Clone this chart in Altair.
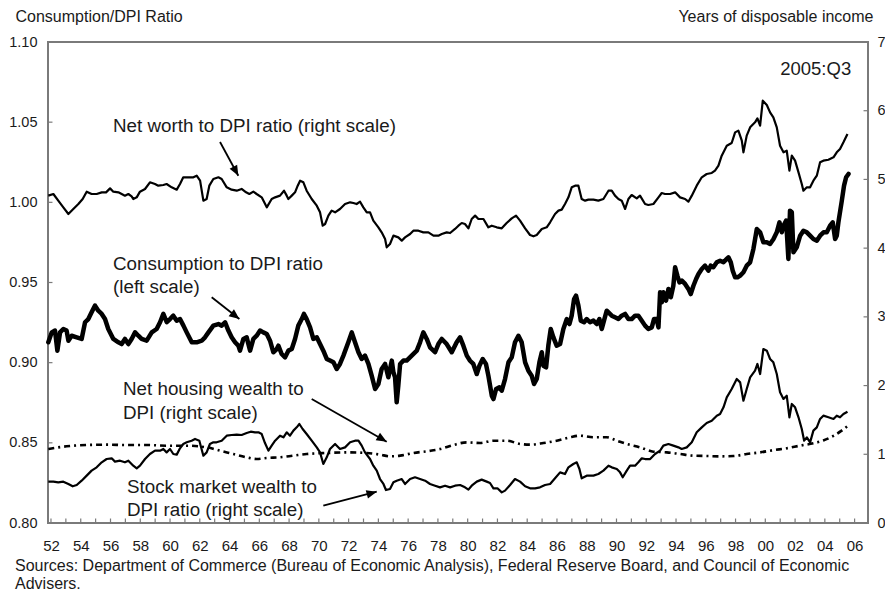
import altair as alt
import pandas as pd

# ---------------- data ----------------
cons_year = [
    1951.82, 1952.05, 1952.27, 1952.43, 1952.61, 1952.83, 1953.05, 1953.17, 1953.39, 1953.73,
    1954.06, 1954.29, 1954.51, 1954.73, 1954.96, 1955.18, 1955.41, 1955.63, 1955.85, 1956.19,
    1956.53, 1956.75, 1956.97, 1957.20, 1957.42, 1957.65, 1957.87, 1958.09, 1958.43, 1958.77,
    1959.10, 1959.33, 1959.55, 1959.78, 1960.00, 1960.22, 1960.45, 1960.67, 1960.90, 1961.12,
    1961.46, 1961.79, 1962.13, 1962.35, 1962.58, 1962.91, 1963.25, 1963.47, 1963.70, 1963.92,
    1964.14, 1964.37, 1964.59, 1964.70, 1964.93, 1965.15, 1965.38, 1965.60, 1965.82, 1966.05,
    1966.27, 1966.50, 1966.72, 1966.94, 1967.17, 1967.28, 1967.50, 1967.73, 1967.95, 1968.18,
    1968.40, 1968.62, 1968.85, 1969.00, 1969.18, 1969.41, 1969.63, 1969.86, 1970.08, 1970.30,
    1970.53, 1970.75, 1970.98, 1971.20, 1971.42, 1971.65, 1971.98, 1972.21, 1972.43, 1972.66,
    1972.88, 1973.10, 1973.33, 1973.55, 1973.78, 1974.00, 1974.22, 1974.45, 1974.67, 1974.90,
    1975.01, 1975.12, 1975.23, 1975.34, 1975.46, 1975.68, 1975.90, 1976.24, 1976.58, 1976.80,
    1977.02, 1977.25, 1977.47, 1977.81, 1978.03, 1978.26, 1978.59, 1978.93, 1979.26,
    1979.49, 1979.71, 1979.94, 1980.16, 1980.38, 1980.61, 1980.79, 1981.01, 1981.23, 1981.39,
    1981.62, 1981.73, 1981.91, 1982.13, 1982.29, 1982.51, 1982.74, 1982.96, 1983.18, 1983.41,
    1983.63, 1983.86, 1984.08, 1984.30, 1984.46, 1984.64, 1984.82, 1984.98, 1985.09, 1985.27,
    1985.42, 1985.58, 1985.76, 1985.98, 1986.21, 1986.43, 1986.66, 1986.84, 1986.99, 1987.15,
    1987.28, 1987.44, 1987.60, 1987.82, 1988.00, 1988.22, 1988.45, 1988.67, 1988.85, 1989.01,
    1989.16, 1989.34, 1989.68, 1989.90, 1990.13, 1990.35, 1990.58, 1990.80, 1991.02, 1991.25,
    1991.47, 1991.70, 1991.92, 1992.14, 1992.37, 1992.52, 1992.70, 1992.82, 1992.93,
    1993.04, 1993.15, 1993.33, 1993.49, 1993.65, 1993.82, 1993.94, 1994.09, 1994.23, 1994.39,
    1994.61, 1994.83, 1994.99, 1995.17, 1995.35, 1995.51, 1995.73, 1995.95, 1996.18, 1996.33,
    1996.51, 1996.74, 1996.96, 1997.19, 1997.41, 1997.52, 1997.68, 1997.81, 1997.97, 1998.13,
    1998.31, 1998.53, 1998.75, 1998.98, 1999.20, 1999.43, 1999.65, 1999.87, 2000.10, 2000.32,
    2000.55, 2000.77, 2000.95, 2001.11, 2001.22, 2001.40, 2001.55, 2001.66, 2001.78, 2001.89,
    2002.11, 2002.34, 2002.56, 2002.79, 2003.01, 2003.23, 2003.46, 2003.68, 2003.91, 2004.13,
    2004.35, 2004.53, 2004.69, 2004.80, 2004.91, 2005.14, 2005.29, 2005.43, 2005.59,
]
cons_val = [
    0.9127, 0.9189, 0.9200, 0.9075, 0.9189, 0.9210, 0.9200, 0.9137, 0.9168, 0.9158,
    0.9148, 0.9252, 0.9272, 0.9314, 0.9356, 0.9324, 0.9304, 0.9272, 0.9210, 0.9148,
    0.9127, 0.9116, 0.9148, 0.9116, 0.9148, 0.9189, 0.9168, 0.9148, 0.9137, 0.9189,
    0.9210, 0.9252, 0.9304, 0.9252, 0.9272, 0.9293, 0.9262, 0.9272, 0.9231, 0.9189,
    0.9127, 0.9127, 0.9137, 0.9158, 0.9189, 0.9231, 0.9241, 0.9231, 0.9252, 0.9200,
    0.9158, 0.9127, 0.9106, 0.9075, 0.9148, 0.9158, 0.9075, 0.9148, 0.9168, 0.9200,
    0.9189, 0.9179, 0.9137, 0.9065, 0.9085, 0.9106, 0.9054, 0.9033, 0.9075, 0.9085,
    0.9148, 0.9231, 0.9272, 0.9304, 0.9272, 0.9220, 0.9148, 0.9158, 0.9116, 0.9075,
    0.9023, 0.9013, 0.9002, 0.8961, 0.8992, 0.9044, 0.9127, 0.9189, 0.9127, 0.9065,
    0.9023, 0.9044, 0.8992, 0.8919, 0.8836, 0.8867, 0.8961, 0.8992, 0.8909, 0.9013,
    0.8940, 0.8909, 0.8753, 0.8857, 0.8992, 0.9013, 0.9013, 0.9044, 0.9075, 0.9127,
    0.9189, 0.9148, 0.9096, 0.9065, 0.9116, 0.9148, 0.9116, 0.9065, 0.9127,
    0.9158, 0.9106, 0.9044, 0.9012, 0.8992, 0.8929, 0.8981, 0.9023, 0.8992, 0.8919,
    0.8794, 0.8773, 0.8836, 0.8846, 0.8825, 0.8898, 0.9002, 0.9033, 0.9127, 0.9168,
    0.9127, 0.9002, 0.8950, 0.8919, 0.8867, 0.8898, 0.9002, 0.9065, 0.8981, 0.8971,
    0.9106, 0.9210, 0.9158, 0.9106, 0.9116, 0.9210, 0.9272, 0.9241, 0.9293, 0.9397,
    0.9418, 0.9356, 0.9262, 0.9252, 0.9272, 0.9252, 0.9262, 0.9241, 0.9272, 0.9210,
    0.9262, 0.9324, 0.9293, 0.9283, 0.9272, 0.9293, 0.9304, 0.9272, 0.9272, 0.9293,
    0.9293, 0.9262, 0.9231, 0.9210, 0.9220, 0.9272, 0.9272, 0.9220, 0.9439,
    0.9376, 0.9439, 0.9387, 0.9460, 0.9408, 0.9480, 0.9595, 0.9543, 0.9501, 0.9512,
    0.9491, 0.9460, 0.9428, 0.9480, 0.9522, 0.9553, 0.9584, 0.9605, 0.9574, 0.9605,
    0.9595, 0.9626, 0.9636, 0.9626, 0.9647, 0.9657, 0.9626, 0.9574, 0.9532, 0.9532,
    0.9543, 0.9564, 0.9605, 0.9626, 0.9709, 0.9834, 0.9813, 0.9751, 0.9751, 0.9740,
    0.9771, 0.9813, 0.9875, 0.9813, 0.9854, 0.9886, 0.9647, 0.9948, 0.9938, 0.9688,
    0.9719, 0.9792, 0.9823, 0.9813, 0.9792, 0.9771, 0.9761, 0.9792, 0.9813, 0.9813,
    0.9854, 0.9875, 0.9771, 0.9792, 0.9875, 1.0010, 1.0104, 1.0156, 1.0177,
]

nw_year = [
    1951.82, 1952.16, 1952.49, 1952.83, 1953.17, 1953.50, 1953.84, 1954.13, 1954.40, 1954.73,
    1955.07, 1955.41, 1955.70, 1955.97, 1956.19, 1956.53, 1956.75, 1956.97, 1957.20, 1957.42,
    1957.53, 1957.76, 1957.98, 1958.32, 1958.65, 1958.99, 1959.21, 1959.55, 1959.77, 1960.11,
    1960.45, 1960.67, 1960.89, 1961.23, 1961.57, 1961.79, 1962.02, 1962.24, 1962.46, 1962.64,
    1962.91, 1963.25, 1963.47, 1963.81, 1964.14, 1964.48, 1964.81, 1965.11, 1965.33, 1965.60,
    1965.82, 1966.16, 1966.50, 1966.83, 1967.06, 1967.39, 1967.66, 1967.84, 1967.95, 1968.18,
    1968.40, 1968.58, 1968.74, 1968.96, 1969.18, 1969.52, 1969.86, 1970.08, 1970.26, 1970.42,
    1970.64, 1970.86, 1971.09, 1971.42, 1971.76, 1972.10, 1972.32, 1972.54, 1972.77, 1972.99,
    1973.22, 1973.44, 1973.66, 1974.00, 1974.22, 1974.45, 1974.56, 1974.78, 1975.01, 1975.34,
    1975.57, 1975.79, 1976.13, 1976.35, 1976.69, 1977.02, 1977.36, 1977.70, 1978.03, 1978.26,
    1978.59, 1978.82,
    1979.15, 1979.38, 1979.60, 1979.82, 1980.05, 1980.27, 1980.50, 1980.72, 1981.06, 1981.39,
    1981.62, 1981.95, 1982.29, 1982.62, 1982.96, 1983.25, 1983.52, 1983.86, 1984.19, 1984.42,
    1984.64, 1984.98, 1985.31, 1985.54, 1985.87, 1986.10, 1986.32, 1986.54, 1986.77, 1986.99,
    1987.22, 1987.44, 1987.66, 1987.89, 1988.11, 1988.45, 1988.78, 1989.12, 1989.46, 1989.68,
    1989.90, 1990.13, 1990.35, 1990.58, 1990.80, 1991.02, 1991.36, 1991.58, 1991.92, 1992.14,
    1992.48, 1992.82, 1993.04, 1993.26, 1993.60, 1993.94, 1994.27, 1994.61, 1994.83, 1995.06,
    1995.39, 1995.73, 1996.06, 1996.40, 1996.62, 1996.85, 1997.07, 1997.41, 1997.74, 1997.97,
    1998.19, 1998.42, 1998.53, 1998.75, 1998.98, 1999.31, 1999.47, 1999.65, 1999.83, 2000.10,
    2000.32, 2000.54, 2000.77, 2000.99, 2001.22, 2001.44, 2001.62, 2001.78, 2002.00, 2002.23,
    2002.45, 2002.56, 2002.79, 2003.01, 2003.23, 2003.46, 2003.68, 2003.90, 2004.24, 2004.58,
    2004.80, 2005.02, 2005.25, 2005.52,
]
nw_val = [
    4.764, 4.788, 4.691, 4.594, 4.497, 4.570, 4.642, 4.715, 4.822, 4.788,
    4.788, 4.812, 4.812, 4.870, 4.822, 4.812, 4.788, 4.764, 4.788, 4.754,
    4.715, 4.739, 4.822, 4.861, 4.958, 4.933, 4.909, 4.919, 4.933, 4.885,
    4.851, 4.933, 5.031, 5.031, 5.031, 5.055, 4.982, 4.691, 4.715, 4.909,
    5.006, 5.031, 5.006, 4.885, 4.851, 4.836, 4.861, 4.812, 4.788, 4.822,
    4.788, 4.739, 4.594, 4.715, 4.739, 4.764, 4.836, 4.764, 4.715, 4.764,
    4.812, 4.909, 4.982, 4.958, 4.836, 4.715, 4.618, 4.521, 4.327, 4.351,
    4.473, 4.546, 4.521, 4.570, 4.642, 4.667, 4.657, 4.642, 4.676, 4.594,
    4.521, 4.521, 4.400, 4.303, 4.230, 4.133, 4.012, 4.060, 4.182, 4.157,
    4.109, 4.157, 4.206, 4.254, 4.254, 4.230, 4.230, 4.182, 4.182, 4.206,
    4.230, 4.220,
    4.279, 4.327, 4.366, 4.351, 4.288, 4.424, 4.473, 4.424, 4.424, 4.303,
    4.327, 4.303, 4.288, 4.366, 4.434, 4.473, 4.400, 4.288, 4.191, 4.172,
    4.191, 4.279, 4.303, 4.376, 4.497, 4.546, 4.560, 4.642, 4.739, 4.885,
    4.909, 4.909, 4.715, 4.691, 4.706, 4.706, 4.691, 4.715, 4.836, 4.836,
    4.764, 4.715, 4.691, 4.570, 4.715, 4.773, 4.725, 4.764, 4.642, 4.628,
    4.642, 4.739, 4.802, 4.788, 4.788, 4.812, 4.739, 4.715, 4.676, 4.764,
    4.909, 5.031, 5.079, 5.094, 5.128, 5.200, 5.346, 5.491, 5.530, 5.685,
    5.710, 5.564, 5.394, 5.637, 5.758, 5.831, 5.889, 5.782, 6.146, 6.083,
    5.976, 5.904, 5.758, 5.491, 5.394, 5.418, 5.127, 5.346, 5.273, 5.103,
    4.933, 4.836, 4.885, 4.885, 4.982, 5.055, 5.249, 5.273, 5.287, 5.321,
    5.394, 5.443, 5.540, 5.661,
]

stock_year = [
    1951.82, 1952.16, 1952.49, 1952.83, 1953.17, 1953.46, 1953.73, 1954.06, 1954.40, 1954.73,
    1955.07, 1955.41, 1955.74, 1956.08, 1956.30, 1956.64, 1956.97, 1957.20, 1957.53, 1957.76,
    1957.98, 1958.32, 1958.65, 1958.99, 1959.33, 1959.55, 1959.77, 1960.00, 1960.22, 1960.45,
    1960.67, 1960.89, 1961.12, 1961.45, 1961.68, 1961.97, 1962.24, 1962.46, 1962.68, 1962.91,
    1963.13, 1963.47, 1963.81, 1964.14, 1964.48, 1964.81, 1965.15, 1965.42, 1965.71, 1965.94,
    1966.16, 1966.38, 1966.61, 1966.83, 1967.06, 1967.39, 1967.62, 1967.84, 1968.06, 1968.29,
    1968.51, 1968.69, 1968.91, 1969.18, 1969.52, 1969.86, 1970.08, 1970.30, 1970.53, 1970.75,
    1971.09, 1971.42, 1971.76, 1972.10, 1972.43, 1972.66, 1972.88, 1973.10, 1973.44, 1973.66,
    1973.89, 1974.11, 1974.34, 1974.51, 1974.78, 1975.01, 1975.23, 1975.57, 1975.79, 1976.13,
    1976.46, 1976.80, 1977.14, 1977.47, 1977.81, 1978.14, 1978.48, 1978.82,
    1979.15, 1979.49, 1979.82, 1980.05, 1980.27, 1980.61, 1980.94, 1981.28, 1981.50, 1981.73,
    1982.00, 1982.29, 1982.51, 1982.85, 1983.18, 1983.52, 1983.86, 1984.19, 1984.53, 1984.86,
    1985.20, 1985.54, 1985.87, 1986.21, 1986.54, 1986.77, 1987.10, 1987.33, 1987.51, 1987.66,
    1988.00, 1988.45, 1988.78, 1989.12, 1989.46, 1989.68, 1990.02, 1990.24, 1990.42, 1990.69,
    1990.91, 1991.25, 1991.47, 1991.70, 1991.92, 1992.26, 1992.59, 1992.93, 1993.15, 1993.49,
    1993.82, 1994.16, 1994.38, 1994.72, 1995.06, 1995.39, 1995.73, 1996.06, 1996.40, 1996.74,
    1996.96, 1997.19, 1997.41, 1997.74, 1998.08, 1998.31, 1998.53, 1998.75, 1998.98, 1999.31,
    1999.47, 1999.65, 1999.87, 2000.10, 2000.32, 2000.54, 2000.77, 2000.99, 2001.22, 2001.44,
    2001.62, 2001.78, 2002.00, 2002.23, 2002.45, 2002.61, 2002.79, 2003.01, 2003.23, 2003.46,
    2003.68, 2003.90, 2004.24, 2004.58, 2004.80, 2005.02, 2005.25, 2005.52,
]
stock_val = [
    0.602, 0.602, 0.592, 0.602, 0.568, 0.534, 0.553, 0.616, 0.689, 0.762,
    0.810, 0.883, 0.931, 0.941, 0.893, 0.907, 0.883, 0.907, 0.834, 0.796,
    0.834, 0.931, 1.004, 1.053, 1.053, 1.077, 1.028, 1.077, 1.004, 0.995,
    1.087, 1.150, 1.174, 1.198, 1.223, 1.198, 0.980, 1.028, 1.150, 1.174,
    1.174, 1.198, 1.271, 1.281, 1.286, 1.281, 1.310, 1.329, 1.320, 1.320,
    1.295, 1.164, 1.053, 1.126, 1.198, 1.271, 1.247, 1.320, 1.271, 1.344,
    1.392, 1.441, 1.368, 1.295, 1.198, 1.101, 1.028, 0.859, 0.956, 1.077,
    1.150, 1.077, 1.101, 1.174, 1.198, 1.198, 1.126, 1.028, 0.931, 0.834,
    0.762, 0.640, 0.568, 0.480, 0.495, 0.592, 0.616, 0.640, 0.568, 0.640,
    0.665, 0.640, 0.616, 0.568, 0.543, 0.519, 0.543, 0.519,
    0.543, 0.553, 0.519, 0.485, 0.543, 0.602, 0.631, 0.602, 0.582, 0.505,
    0.505, 0.446, 0.471, 0.553, 0.640, 0.602, 0.534, 0.505, 0.505, 0.519,
    0.553, 0.568, 0.650, 0.737, 0.713, 0.810, 0.859, 0.883, 0.786, 0.650,
    0.689, 0.689, 0.713, 0.762, 0.834, 0.810, 0.786, 0.737, 0.665, 0.762,
    0.834, 0.834, 0.883, 0.941, 0.931, 0.931, 1.004, 1.053, 1.126, 1.150,
    1.126, 1.101, 1.077, 1.101, 1.174, 1.320, 1.392, 1.455, 1.489, 1.562,
    1.586, 1.683, 1.829, 1.950, 2.096, 2.047, 1.780, 1.950, 2.120, 2.217,
    2.314, 2.168, 2.532, 2.508, 2.387, 2.338, 2.168, 1.902, 1.805, 1.853,
    1.538, 1.732, 1.683, 1.538, 1.368, 1.198, 1.247, 1.174, 1.344, 1.392,
    1.514, 1.562, 1.538, 1.514, 1.562, 1.538, 1.586, 1.620,
]

house_year = [
    1951.82, 1953.05, 1954.40, 1955.74, 1957.09, 1958.43, 1959.77, 1961.12, 1962.46, 1963.36,
    1964.26, 1965.15, 1965.82, 1966.50, 1967.39, 1968.29, 1969.18, 1970.53, 1971.87, 1973.22,
    1974.11, 1974.78, 1975.46, 1976.35, 1977.47, 1978.14, 1979.04, 1979.94, 1980.83, 1981.73,
    1982.62, 1983.52, 1984.19, 1985.09, 1985.98, 1986.88, 1987.55, 1988.45, 1989.34, 1990.02,
    1990.69, 1991.58, 1992.48, 1993.38, 1994.27, 1995.17, 1996.06, 1996.96, 1997.86, 1998.75,
    1999.65, 2000.54, 2001.44, 2002.34, 2003.23, 2003.90, 2004.60, 2005.10, 2005.52,
]
house_val = [
    1.077, 1.116, 1.135, 1.140, 1.135, 1.135, 1.125, 1.125, 1.101, 1.053,
    1.004, 0.956, 0.931, 0.946, 0.956, 0.980, 1.004, 1.019, 1.028, 1.019,
    0.995, 0.970, 0.980, 1.019, 1.050, 1.077, 1.135, 1.174, 1.164, 1.198,
    1.198, 1.150, 1.140, 1.164, 1.198, 1.247, 1.271, 1.247, 1.247, 1.198,
    1.150, 1.101, 1.038, 1.028, 1.004, 0.980, 0.975, 0.970, 0.975, 1.004,
    1.028, 1.060, 1.087, 1.126, 1.160, 1.200, 1.270, 1.340, 1.410,
]

# axis ticks / labels
x_tick_years = list(range(1952, 2007))
x_label_years = list(range(1952, 2007, 2))
left_label_vals = [0.80, 0.85, 0.90, 0.95, 1.00, 1.05, 1.10]
left_tick_vals = [0.85, 0.90, 0.95, 1.00, 1.05]
right_label_vals = [0, 1, 2, 3, 4, 5, 6, 7]
right_tick_vals = [1, 2, 3, 4, 5, 6]

# annotations (positions in data units: year, left-scale value)
note_text = [
    "Net worth to DPI  ratio (right scale)",
    "Consumption to DPI ratio",
    "(left scale)",
    "Net housing wealth to",
    "DPI (right scale)",
    "Stock market wealth to",
    "DPI ratio (right scale)",
]
note_year = [1956.17, 1956.17, 1956.17, 1956.84, 1956.84, 1957.11, 1957.11]
note_val = [1.0476, 0.9615, 0.9472, 0.8836, 0.8686, 0.8225, 0.8081]

stamp_text = ["2005:Q3"]
stamp_year = [2005.77]
stamp_val = [1.0832]

arrow_x1 = [1963.36, 1962.80, 1969.52, 1970.30]
arrow_y1 = [1.0376, 0.9408, 0.8773, 0.8108]
arrow_x2 = [1964.59, 1964.66, 1974.56, 1973.89]
arrow_y2 = [1.0166, 0.9272, 0.8507, 0.8195]
arrow_ang = [151, 128, 120, 75]

sources = [
    "Sources: Department of Commerce (Bureau of Economic Analysis), Federal Reserve Board, and Council of Economic",
    "Advisers.",
]

assert len(cons_year) == len(cons_val)
assert len(nw_year) == len(nw_val)
assert len(stock_year) == len(stock_val)
assert len(house_year) == len(house_val)

# ---------------- chart ----------------
FONT = "Liberation Sans"
INK = "#1a1a1a"
FRAME = "#7a7a7a"
X0, X1 = 1951.8, 2006.9


def xscale():
    return alt.Scale(domain=[X0, X1], nice=False, zero=False)


def lscale():
    return alt.Scale(domain=[0.80, 1.10], nice=False, zero=False)


def rscale():
    return alt.Scale(domain=[0, 7], nice=False, zero=False)


def x_axis():
    return alt.Axis(
        values=x_label_years,
        labelExpr="substring(toString(datum.value), 2, 4)",
        ticks=False, domain=False, grid=False, labelPadding=15,
        labelFlush=False, labelOverlap=False,
        labelFont=FONT, labelFontSize=15, labelColor=INK, title=None,
    )


cons_df = pd.DataFrame({"year": cons_year, "val": cons_val})
nw_df = pd.DataFrame({"year": nw_year, "val": nw_val})
stock_df = pd.DataFrame({"year": stock_year, "val": stock_val})
house_df = pd.DataFrame({"year": house_year, "val": house_val})
notes_df = pd.DataFrame({"year": note_year, "val": note_val, "text": note_text})
stamp_df = pd.DataFrame({"year": stamp_year, "val": stamp_val, "text": stamp_text})
arrow_df = pd.DataFrame({"xa": arrow_x1, "ya": arrow_y1, "xe": arrow_x2, "ye": arrow_y2, "ang": arrow_ang})
xt_df = pd.DataFrame({"year": x_tick_years, "y0": [0.80] * len(x_tick_years), "y1": [0.8028] * len(x_tick_years)})
lt_df = pd.DataFrame({"val": left_tick_vals, "x0": [X0] * len(left_tick_vals), "x1": [X0 + 0.3] * len(left_tick_vals)})
rt_df = pd.DataFrame({"val": right_tick_vals, "x0": [X1 - 0.3] * len(right_tick_vals), "x1": [X1] * len(right_tick_vals)})


def xq(field="year"):
    # every layer carries the same x axis definition so that they merge into one
    return alt.X(f"{field}:Q", scale=xscale(), axis=x_axis())


def yl(field="val"):
    return alt.Y(f"{field}:Q", scale=lscale(), axis=None)


def yr(field="val"):
    return alt.Y(f"{field}:Q", scale=rscale(), axis=None)


left_axis = alt.Axis(
    orient="left", values=left_label_vals, format=".2f",
    ticks=False, domain=False, grid=False, labelPadding=11,
    labelFont=FONT, labelFontSize=14.5, labelColor=INK,
    title="Consumption/DPI Ratio", titleAngle=0, titleAlign="left",
    titleBaseline="alphabetic", titleX=-33, titleY=-21,
    titleFont=FONT, titleFontSize=16, titleFontWeight="normal", titleColor=INK,
)
right_axis = alt.Axis(
    orient="right", values=right_label_vals, format="d",
    ticks=False, domain=False, grid=False, labelPadding=9,
    labelFont=FONT, labelFontSize=14.5, labelColor=INK,
    title="Years of disposable income", titleAngle=0, titleAlign="right",
    titleBaseline="alphabetic", titleX=5, titleY=-21,
    titleFont=FONT, titleFontSize=16, titleFontWeight="normal", titleColor=INK,
)

cons_line = alt.Chart(cons_df).mark_line(
    color="black", strokeWidth=4.5, strokeJoin="round", strokeCap="round"
).encode(
    x=xq("year"),
    y=alt.Y("val:Q", scale=lscale(), axis=left_axis),
)

x_ticks = alt.Chart(xt_df).mark_rule(color=FRAME, strokeWidth=1.2).encode(
    x=xq("year"), y=yl("y0"), y2="y1:Q"
)
l_ticks = alt.Chart(lt_df).mark_rule(color=FRAME, strokeWidth=1.2).encode(
    x=xq("x0"), x2="x1:Q", y=yl("val")
)

arrows = alt.Chart(arrow_df).mark_rule(color="black", strokeWidth=1.8).encode(
    x=xq("xa"), y=yl("ya"), x2="xe:Q", y2="ye:Q"
)
heads = alt.Chart(arrow_df).mark_point(
    shape="M0,0L-0.42,1L0.42,1Z", filled=True, size=420, color="black", opacity=1
).encode(
    x=xq("xe"), y=yl("ye"), angle=alt.Angle("ang:Q", scale=None)
)

notes = alt.Chart(notes_df).mark_text(
    align="left", baseline="middle", font=FONT, fontSize=18.8, color=INK
).encode(x=xq("year"), y=yl("val"), text="text:N")

stamp = alt.Chart(stamp_df).mark_text(
    align="right", baseline="middle", font=FONT, fontSize=18.5, color=INK
).encode(x=xq("year"), y=yl("val"), text="text:N")

nw_line = alt.Chart(nw_df).mark_line(
    color="black", strokeWidth=2.2, strokeJoin="round"
).encode(
    x=xq("year"),
    y=alt.Y("val:Q", scale=rscale(), axis=right_axis),
)
stock_line = alt.Chart(stock_df).mark_line(
    color="black", strokeWidth=2.2, strokeJoin="round"
).encode(x=xq("year"), y=yr("val"))
house_line = alt.Chart(house_df).mark_line(
    color="black", strokeWidth=2.6, strokeDash=[6, 4, 2, 4], interpolate="monotone"
).encode(x=xq("year"), y=yr("val"))
r_ticks = alt.Chart(rt_df).mark_rule(color=FRAME, strokeWidth=1.2).encode(
    x=xq("x0"), x2="x1:Q", y=yr("val")
)

chart = (
    alt.layer(
        cons_line, nw_line, stock_line, house_line,
        x_ticks, l_ticks, r_ticks, arrows, heads, notes, stamp,
    )
    .resolve_scale(y="independent")
    .properties(
        width=820,
        height=481,
        autosize=alt.AutoSizeParams(type="none"),
        padding={"left": 40, "top": 34, "right": 17, "bottom": 71},
        title=alt.TitleParams(
            text=sources, orient="bottom", anchor="start", frame="group",
            dx=-33, offset=5, font=FONT, fontSize=16, fontWeight="normal",
            color=INK, lineHeight=18,
        ),
        background="white",
    )
    .configure_view(stroke=FRAME, strokeWidth=2)
)

chart.save("out.html", embed_options={"renderer": "svg", "actions": False})
